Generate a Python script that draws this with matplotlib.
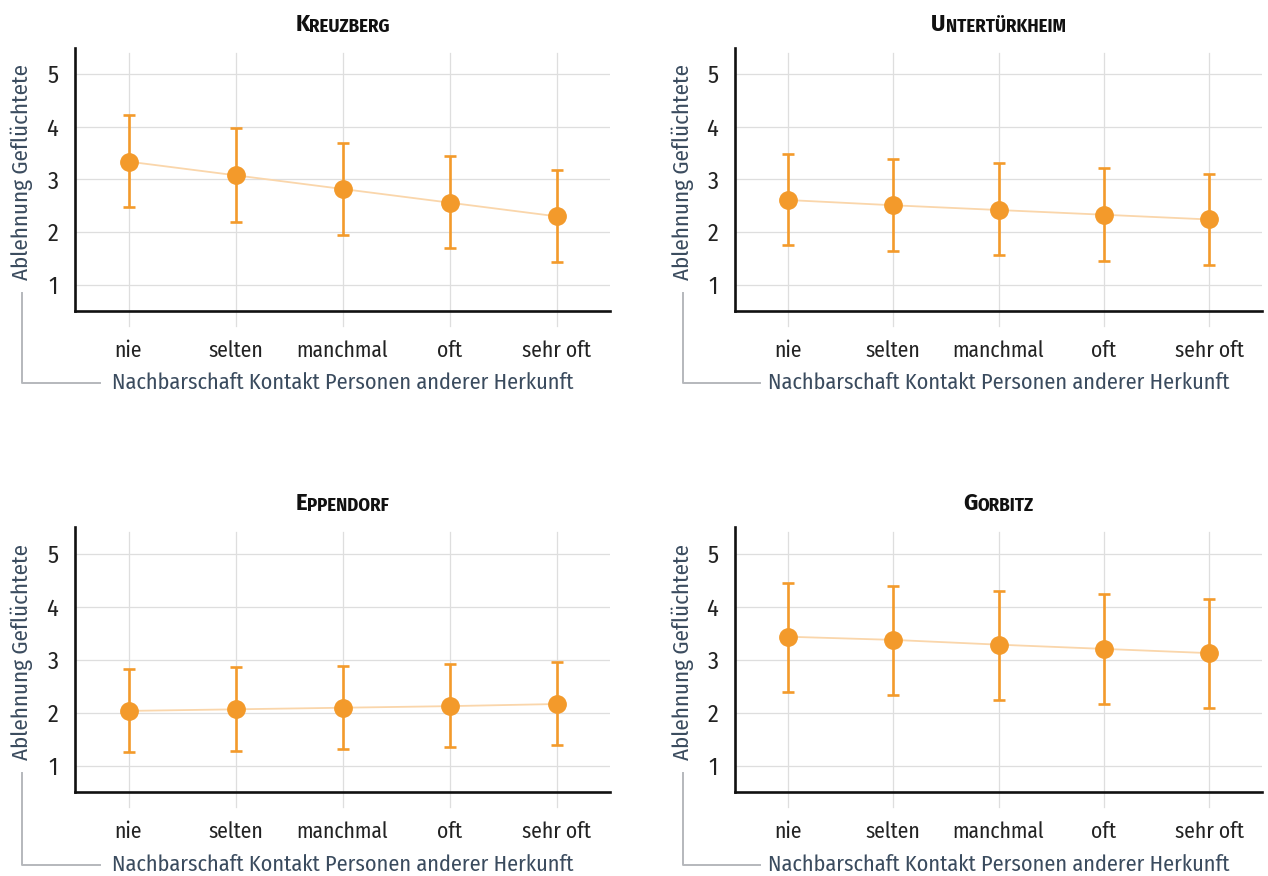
import matplotlib
matplotlib.use('Agg')
import matplotlib.pyplot as plt
from matplotlib.lines import Line2D

plt.rcParams['font.family'] = ['Fira Sans Condensed', 'DejaVu Sans']

# --- DATA ---
categories = ["nie", "selten", "manchmal", "oft", "sehr oft"]
districts = ["Kreuzberg", "Untertürkheim", "Eppendorf", "Gorbitz"]

kreuzberg_mean = [3.34, 3.08, 2.82, 2.56, 2.30]
kreuzberg_low = [2.47, 2.20, 1.95, 1.70, 1.43]
kreuzberg_high = [4.22, 3.97, 3.70, 3.44, 3.18]

untert_mean = [2.61, 2.51, 2.42, 2.33, 2.24]
untert_low = [1.75, 1.64, 1.56, 1.46, 1.37]
untert_high = [3.49, 3.39, 3.31, 3.21, 3.11]

eppendorf_mean = [2.03, 2.06, 2.09, 2.12, 2.16]
eppendorf_low = [1.25, 1.28, 1.31, 1.34, 1.39]
eppendorf_high = [2.82, 2.85, 2.88, 2.91, 2.96]

gorbitz_mean = [3.43, 3.37, 3.28, 3.20, 3.12]
gorbitz_low = [2.39, 2.33, 2.24, 2.16, 2.08]
gorbitz_high = [4.44, 4.38, 4.30, 4.23, 4.15]

series = [
    (kreuzberg_mean, kreuzberg_low, kreuzberg_high),
    (untert_mean, untert_low, untert_high),
    (eppendorf_mean, eppendorf_low, eppendorf_high),
    (gorbitz_mean, gorbitz_low, gorbitz_high),
]

y_ticks = [1, 2, 3, 4, 5]
y_label = "Ablehnung Geflüchtete"
x_label = "Nachbarschaft Kontakt Personen anderer Herkunft"

# --- STYLE ---
ORANGE = '#f39a2b'
LINE_LIGHT = '#fad6ab'
GRID = '#dedede'
LABEL_COL = '#3a4b5e'
TICK_COL = '#222222'
BRACKET = '#b5b8bc'

W, H = 1268, 876
fig = plt.figure(figsize=(W / 100, H / 100), dpi=100)

# axes boxes in pixels: left, right, top, bottom
boxes = [(75, 610, 48, 311), (735, 1262, 48, 311),
         (75, 610, 527, 792), (735, 1262, 527, 792)]

axes = []
for (l, r, t, b) in boxes:
    ax = fig.add_axes([l / W, 1 - b / H, (r - l) / W, (b - t) / H])
    axes.append(ax)

x = list(range(len(categories)))

for ax, name, (mean, low, high) in zip(axes, districts, series):
    ax.set_xlim(-0.5, 4.5)
    ax.set_ylim(0.5, 5.5)

    # grid
    for yv in y_ticks:
        ax.axhline(yv, color=GRID, lw=0.9, zorder=0)
    for xv in x:
        ax.plot([xv, xv], [0.22, 5.4], color=GRID, lw=0.9, zorder=0, clip_on=False)

    ax.plot(x, mean, color=LINE_LIGHT, lw=1.3, zorder=2)
    err = [[m - lo for m, lo in zip(mean, low)], [hi - m for m, hi in zip(mean, high)]]
    ax.errorbar(x, mean, yerr=err, fmt='none', ecolor=ORANGE, elinewidth=1.9,
                capsize=4.5, capthick=1.9, zorder=3)
    ax.plot(x, mean, 'o', color=ORANGE, markersize=12.5, zorder=4)

    for side in ['top', 'right']:
        ax.spines[side].set_visible(False)
    for side in ['left', 'bottom']:
        ax.spines[side].set_linewidth(1.9)
        ax.spines[side].set_color('#111111')

    ax.set_yticks(y_ticks)
    ax.set_xticks(x)
    ax.set_xticklabels(categories)
    ax.tick_params(axis='both', length=0, colors=TICK_COL)
    ax.tick_params(axis='y', pad=12, labelsize=17.5)
    ax.tick_params(axis='x', pad=21, labelsize=15.5)

    ax.text(-0.099, 0.53, y_label, transform=ax.transAxes, rotation=90,
            ha='center', va='center', fontsize=16.5, color=LABEL_COL)
    ax.text(0.5, -0.274, x_label, transform=ax.transAxes,
            ha='center', va='center', fontsize=16, color=LABEL_COL)

    # bracket connecting axis labels
    ax.add_line(Line2D([-0.099, -0.099, 0.047], [0.07, -0.274, -0.274],
                       transform=ax.transAxes, color=BRACKET, lw=1.4, clip_on=False))

    # small caps title
    t1 = ax.text(0.5, 1.064, name[0].upper(), transform=ax.transAxes,
                 fontsize=17.5, fontweight='bold', ha='left', va='baseline', color='#111111')
    t2 = ax.annotate(name[1:].upper(), xy=(1, 0), xycoords=t1, fontsize=13.5,
                     fontweight='bold', ha='left', va='bottom', color='#111111')
    ax._title_parts = (t1, t2)

fig.canvas.draw()
renderer = fig.canvas.get_renderer()
for ax in axes:
    t1, t2 = ax._title_parts
    w = t1.get_window_extent(renderer).width + t2.get_window_extent(renderer).width
    axw = ax.get_window_extent(renderer).width
    t1.set_x(0.5 - w / 2 / axw)

fig.savefig('out.png', dpi=100, facecolor='white')
